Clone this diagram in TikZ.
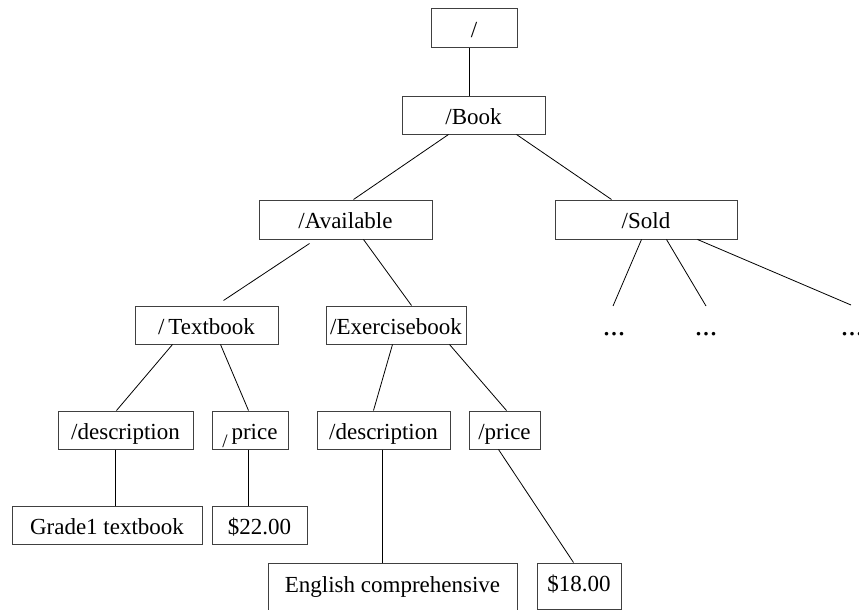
\documentclass[tikz,border=0pt]{standalone}
\usepackage{fontspec}
\setmainfont{Liberation Serif}
\begin{document}
\begin{tikzpicture}[x=1pt,y=-1pt,
  every node/.style={inner sep=0pt,font=\fontsize{23}{27}\selectfont},
  box/.style={draw=black!75,line width=1pt,rectangle,minimum height=38pt,
    text height=18pt,text depth=0pt},
  link/.style={line width=0.8pt,black},
  dots/.style={anchor=base,font=\fontsize{30}{30}\selectfont}]
\useasboundingbox (0,0) rectangle (859,610);

% directory nodes
\node[box,minimum width=86pt,minimum height=39pt]  (root)     at (474,28.5)  {/};
\node[box,minimum width=143pt]                     (book)     at (473.5,115) {/Book};
\node[box,minimum width=173pt,minimum height=39pt] (avail)    at (345.5,219.5) {/Available};
\node[box,minimum width=182pt,minimum height=39pt] (sold)     at (646,219.5) {/Sold};
\node[box,minimum width=143pt]                     (textbook) at (206.5,325) {/\,Textbook};
\node[box,minimum width=140pt]                     (exercise) at (396,325)   {/Exercisebook};
\node[box,minimum width=135pt]                     (descL)    at (125.5,430) {/description};
\node[box,minimum width=76pt]                      (priceL)   at (250,430)
  {\raisebox{-8pt}{\fontsize{19}{19}\selectfont/}\,price};
\node[box,minimum width=133pt]                     (descR)    at (383.5,430) {/description};
\node[box,minimum width=71pt]                      (priceR)   at (504.5,430) {/price};

% leaf values
\node[box,minimum width=190pt]                     (grade)    at (107,525)   {Grade1 textbook};
\node[box,minimum width=95pt]                      (p22)      at (259.5,525) {\$22.00};
\node[draw=black!75,line width=1pt,rectangle,minimum width=249pt,
  text height=29pt,text depth=51pt,anchor=north]  (english)  at (392.5,563) {English comprehensive};
\node[box,minimum width=84pt,minimum height=46pt,
  text height=16pt,text depth=6pt]                 (p18)      at (579,586)   {\$18.00};

% elided children of /Sold
\node[dots] (dots1) at (614,335) {...};
\node[dots] (dots2) at (706,335) {...};
\node[dots] (dots3) at (852,335) {...};
\coordinate (e1) at (613,306);
\coordinate (e2) at (706,306);
\coordinate (e3) at (851,305);

% connectors
\draw[link] ([xshift=-5pt]root.south) -- ([xshift=-4.5pt]book.north);
\draw[link] ([xshift=47pt]book.south west) -- ([xshift=95pt]avail.north west);
\draw[link] ([xshift=115pt]book.south west) -- ([xshift=57pt]sold.north west);
\draw[link] ([xshift=51pt,yshift=-4pt]avail.south west) -- ([xshift=89pt,yshift=5pt]textbook.north west);
\draw[link] ([xshift=105pt]avail.south west) -- ([xshift=86pt]exercise.north west);
\draw[link] ([xshift=87pt]sold.south west) -- (e1);
\draw[link] ([xshift=112pt]sold.south west) -- (e2);
\draw[link] ([xshift=143pt]sold.south west) -- (e3);
\draw[link] ([xshift=38pt]textbook.south west) -- ([xshift=59pt]descL.north west);
\draw[link] ([xshift=86pt]textbook.south west) -- ([xshift=37pt]priceL.north west);
\draw[link] ([xshift=67pt]exercise.south west) -- ([xshift=57pt]descR.north west);
\draw[link] ([xshift=124pt]exercise.south west) -- ([xshift=38pt]priceR.north west);
\draw[link] ([xshift=58pt]descL.south west) -- ([xshift=104pt]grade.north west);
\draw[link] ([xshift=37pt]priceL.south west) -- ([xshift=37pt]p22.north west);
\draw[link] ([xshift=66pt]descR.south west) -- ([xshift=115pt]english.north west);
\draw[link] ([xshift=30pt]priceR.south west) -- ([xshift=37pt]p18.north west);
\end{tikzpicture}
\end{document}
